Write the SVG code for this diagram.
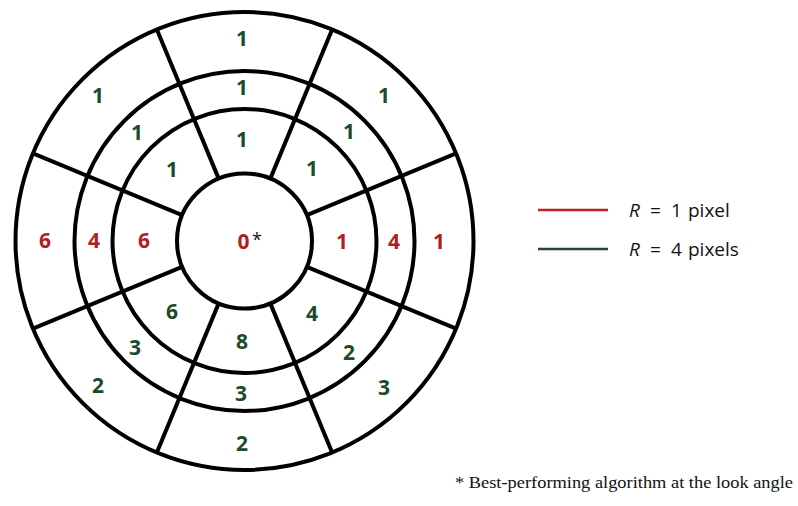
<svg xmlns="http://www.w3.org/2000/svg" width="798" height="506" viewBox="0 0 798 506">
<style>
.ring{fill:none;stroke:#000;stroke-width:4}
.spoke{stroke:#000;stroke-width:4;stroke-linecap:butt}
.v{font-family:"Open Sans","Noto Sans",sans-serif;font-weight:bold;font-size:21px;text-anchor:middle}
.r{fill:#b01e1e}
.g{fill:#1c4a2c}
.leg{font-family:"Open Sans","Noto Sans",sans-serif;font-size:19px;fill:#111}
.foot{font-family:"Liberation Serif","Times New Roman",serif;font-size:17px;fill:#111}
</style>
<rect width="798" height="506" fill="#fff"/>
<g id="rings">
<circle class="ring" cx="244.5" cy="241" r="229"/>
<circle class="ring" cx="244.5" cy="241" r="170"/>
<circle class="ring" cx="244.5" cy="241" r="132"/>
<circle class="ring" cx="244.5" cy="241" r="67.5"/>
</g>
<g id="connectors">
<line class="spoke" x1="306.86" y1="215.17" x2="456.07" y2="153.37"/>
<line class="spoke" x1="270.33" y1="178.64" x2="332.13" y2="29.43"/>
<line class="spoke" x1="218.67" y1="178.64" x2="156.87" y2="29.43"/>
<line class="spoke" x1="182.14" y1="215.17" x2="32.93" y2="153.37"/>
<line class="spoke" x1="182.14" y1="266.83" x2="32.93" y2="328.63"/>
<line class="spoke" x1="218.67" y1="303.36" x2="156.87" y2="452.57"/>
<line class="spoke" x1="270.33" y1="303.36" x2="332.13" y2="452.57"/>
<line class="spoke" x1="306.86" y1="266.83" x2="456.07" y2="328.63"/>
</g>
<g id="center">
<text class="v r" x="243.5" y="248.5">0</text>
<text x="252" y="246" font-family="Open Sans, sans-serif" font-size="18" fill="#111">*</text>
</g>
<g id="outer-ring">
<text class="v g" x="242" y="46">1</text>
<text class="v g" x="98" y="103">1</text>
<text class="v g" x="384" y="103">1</text>
<text class="v r" x="45" y="248">6</text>
<text class="v r" x="439" y="249">1</text>
<text class="v g" x="98" y="393">2</text>
<text class="v g" x="242" y="451">2</text>
<text class="v g" x="384" y="395">3</text>
</g>
<g id="middle-ring">
<text class="v g" x="242" y="95">1</text>
<text class="v g" x="137" y="140">1</text>
<text class="v g" x="349" y="139">1</text>
<text class="v r" x="94" y="248">4</text>
<text class="v r" x="394" y="249">4</text>
<text class="v g" x="135" y="355">3</text>
<text class="v g" x="241" y="401">3</text>
<text class="v g" x="349" y="360">2</text>
</g>
<g id="inner-ring">
<text class="v g" x="242" y="147">1</text>
<text class="v g" x="172" y="177">1</text>
<text class="v g" x="312" y="176">1</text>
<text class="v r" x="144" y="248">6</text>
<text class="v r" x="342" y="249">1</text>
<text class="v g" x="172" y="319">6</text>
<text class="v g" x="242" y="349">8</text>
<text class="v g" x="312" y="321">4</text>
</g>
<g id="legend">
<line x1="538" y1="210" x2="608" y2="210" stroke="#c01e28" stroke-width="2.5"/>
<line x1="538" y1="249" x2="608" y2="249" stroke="#1c4a33" stroke-width="2.5"/>
<text class="leg" y="217"><tspan x="629" font-style="italic">R</tspan><tspan x="650">=</tspan><tspan x="671">1</tspan><tspan x="688">pixel</tspan></text>
<text class="leg" y="256"><tspan x="629" font-style="italic">R</tspan><tspan x="650">=</tspan><tspan x="671">4</tspan><tspan x="688">pixels</tspan></text>
</g>
<g id="footnote">
<text class="foot" x="455" y="488" textLength="338" lengthAdjust="spacingAndGlyphs">* Best-performing algorithm at the look angle</text>
</g>
</svg>
